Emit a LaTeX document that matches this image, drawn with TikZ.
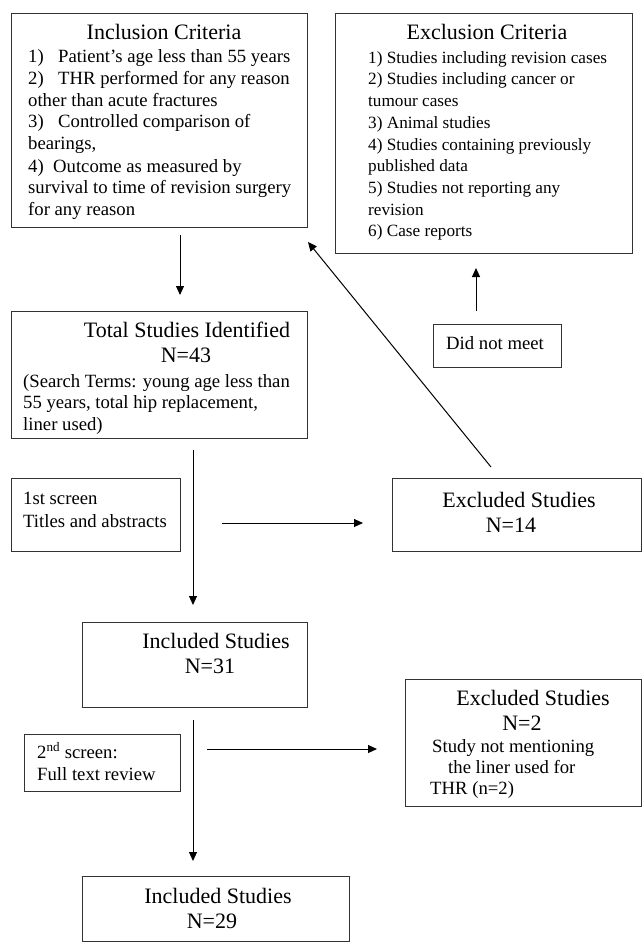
\documentclass[tikz,border=0pt]{standalone}
\usepackage{fontspec}
\setmainfont{Liberation Serif}
\usetikzlibrary{arrows.meta}
\tikzset{
  box/.style={draw=black!80, line width=0.8pt, anchor=north west, inner sep=0pt},
  ttl/.style={inner sep=0pt, anchor=base, font=\fontsize{22}{26}\selectfont},
  txt/.style={inner sep=0pt, anchor=base west, font=\fontsize{18.7}{21.8}\selectfont},
  txs/.style={inner sep=0pt, anchor=base west, font=\fontsize{17.2}{21.7}\selectfont},
  arr/.style={draw=black, line width=1pt, -{Triangle[length=9pt,width=8pt]}}
}
\begin{document}
\begin{tikzpicture}[x=1pt,y=-1pt]
\useasboundingbox (0,0) rectangle (643,944);
% boxes
\node[box, minimum width=296pt, minimum height=214pt] (inc) at (11,13) {};
\node[box, minimum width=297pt, minimum height=240pt] (exc) at (335,13) {};
\node[box, minimum width=128pt, minimum height=43pt] (dnm) at (433,324) {};
\node[box, minimum width=296pt, minimum height=127pt] (tot) at (11,311) {};
\node[box, minimum width=169pt, minimum height=73pt] (scr1) at (11,478) {};
\node[box, minimum width=249pt, minimum height=73pt] (exc14) at (392,478) {};
\node[box, minimum width=225pt, minimum height=85pt] (inc31) at (82,622) {};
\node[box, minimum width=156pt, minimum height=57pt] (scr2) at (24,734) {};
\node[box, minimum width=236pt, minimum height=127pt] (exc2) at (405,679) {};
\node[box, minimum width=267pt, minimum height=65pt] (inc29) at (82,876) {};
% inclusion criteria
\node[ttl] (incT) at (164,40) {Inclusion Criteria};
\node[txt] (inc1) at (28,63) {\makebox[30pt][l]{1)}Patient’s age less than 55 years};
\node[txt] (inc2) at (28,85) {\makebox[30pt][l]{2)}THR performed for any reason};
\node[txt] (inc3) at (28,106.5) {other than acute fractures};
\node[txt] (inc4) at (28,128) {\makebox[30pt][l]{3)}Controlled comparison of};
\node[txt] (inc5) at (28,150) {bearings,};
\node[txt] (inc6) at (28,172) {\makebox[25pt][l]{4)}Outcome as measured by};
\node[txt] (inc7) at (28,193.5) {survival to time of revision surgery};
\node[txt] (inc8) at (28,215.5) {for any reason};
% exclusion criteria
\node[ttl] (excT) at (487,40) {Exclusion Criteria};
\node[txs] (exc1) at (368,63.3) {1) Studies including revision cases};
\node[txs] (exc2t) at (368,85) {2) Studies including cancer or};
\node[txs] (exc3) at (368,106.7) {tumour cases};
\node[txs] (exc4) at (368,128.4) {3) Animal studies};
\node[txs] (exc5) at (368,150.1) {4) Studies containing previously};
\node[txs] (exc6) at (368,171.8) {published data};
\node[txs] (exc7) at (368,193.5) {5) Studies not reporting any};
\node[txs] (exc8) at (368,215.2) {revision};
\node[txs] (exc9) at (368,236.9) {6) Case reports};
% did not meet
\node[txt] (dnmT) at (446,349) {Did not meet};
% total studies
\node[ttl] (totT) at (187,337) {Total Studies Identified};
\node[ttl] (totN) at (186,362) {N=43};
\node[txt] (tot1) at (23,387) {(Search Terms: young age less than};
\node[txt] (tot2) at (23,408.5) {55 years, total hip replacement,};
\node[txt] (tot3) at (23,430) {liner used)};
% 1st screen
\node[txt] (scr1a) at (23,504) {1st screen};
\node[txt] (scr1b) at (23,527) {Titles and abstracts};
% excluded 14
\node[ttl] (exc14T) at (519,507) {Excluded Studies};
\node[ttl] (exc14N) at (511,532) {N=14};
% included 31
\node[ttl] (inc31T) at (216,648) {Included Studies};
\node[ttl] (inc31N) at (210,673) {N=31};
% 2nd screen
\node[txt] (scr2a) at (37,758) {2\textsuperscript{nd} screen:};
\node[txt] (scr2b) at (37,780) {Full text review};
% excluded 2
\node[ttl] (exc2T) at (533,705) {Excluded Studies};
\node[ttl] (exc2N) at (522,730) {N=2};
\node[txt] (exc2a) at (432,752) {Study not mentioning};
\node[txt] (exc2b) at (448,773) {the liner used for};
\node[txt] (exc2c) at (430,794) {THR (n=2)};
% included 29
\node[ttl] (inc29T) at (218,903) {Included Studies};
\node[ttl] (inc29N) at (212,928) {N=29};
% connector ends
\coordinate (a1s) at (180,235); \coordinate (a1e) at (180,295);
\coordinate (a2s) at (193,450); \coordinate (a2e) at (193,605);
\coordinate (a3s) at (222,523); \coordinate (a3e) at (363,523);
\coordinate (a4s) at (491,467); \coordinate (a4e) at (308,242);
\coordinate (a5s) at (476,311); \coordinate (a5e) at (476,268);
\coordinate (a6s) at (193,720); \coordinate (a6e) at (193,861);
\coordinate (a7s) at (207,749); \coordinate (a7e) at (377,749);
\draw[arr] (a1s) -- (a1e);
\draw[arr] (a2s) -- (a2e);
\draw[arr] (a3s) -- (a3e);
\draw[arr] (a4s) -- (a4e);
\draw[arr] (a5s) -- (a5e);
\draw[arr] (a6s) -- (a6e);
\draw[arr] (a7s) -- (a7e);
\end{tikzpicture}
\end{document}
